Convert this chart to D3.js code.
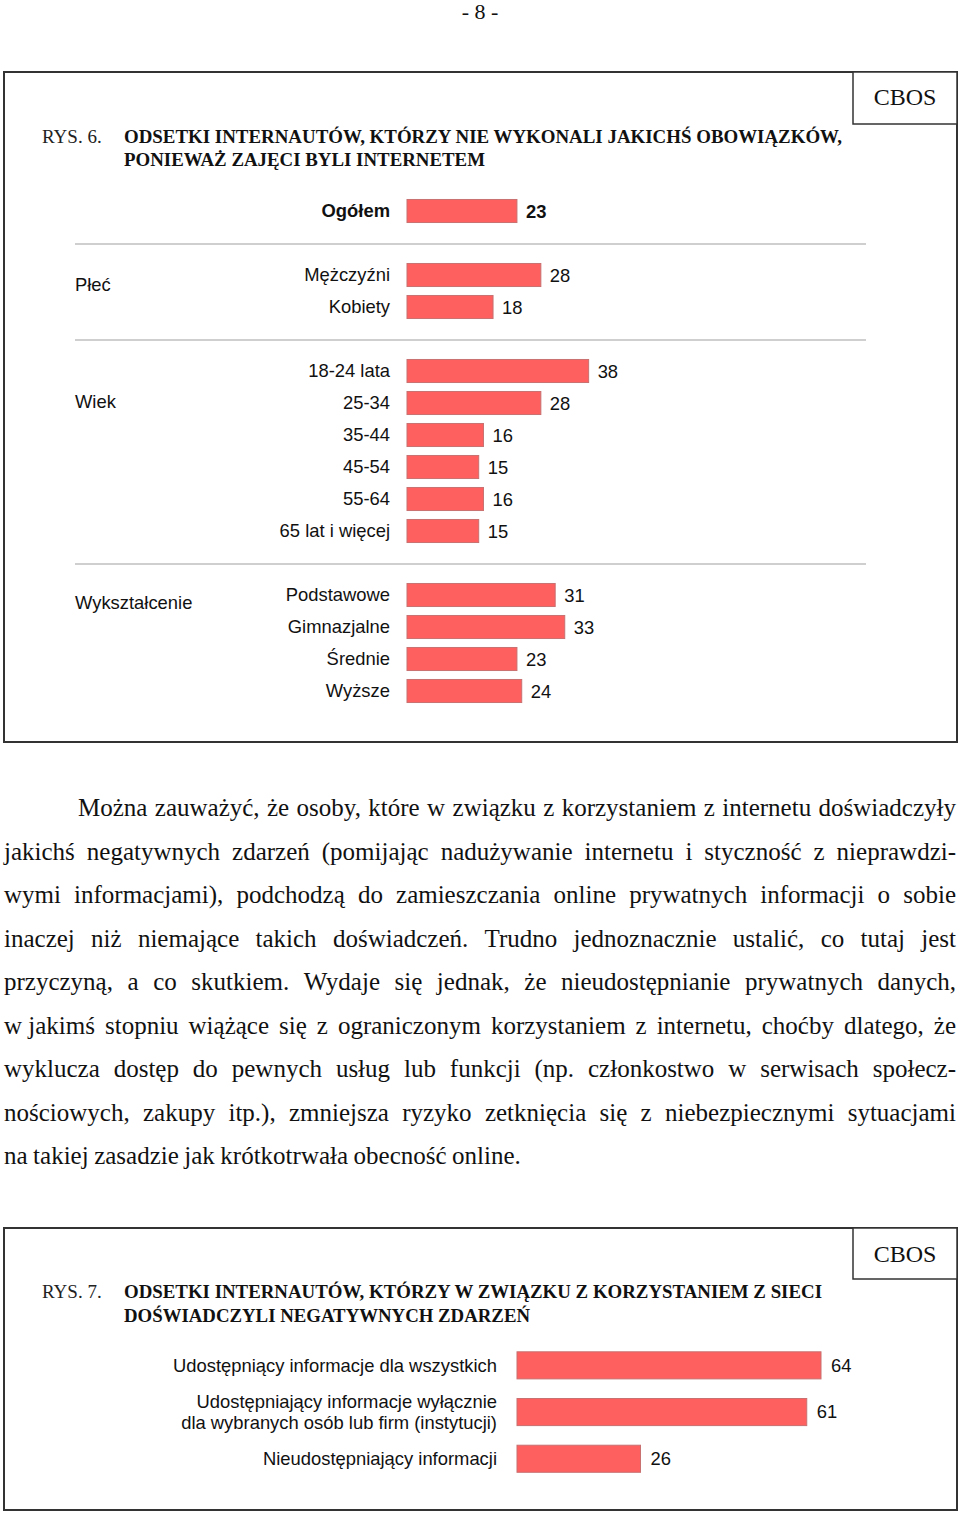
<!DOCTYPE html>
<html lang="pl">
<head>
<meta charset="utf-8">
<script src="https://cdn.jsdelivr.net/npm/d3@7"></script>
<style>
  html, body { margin: 0; padding: 0; background: #fff; }
  svg { display: block; }
  .serif { font-family: "Liberation Serif", "Times New Roman", serif; }
  .sans { font-family: "Liberation Sans", Arial, sans-serif; }
</style>
</head>
<body>
<svg id="page" width="960" height="1513"></svg>
<script>
// ---------------- DATA ----------------
const pageNumber = "- 8 -";
const brand = "CBOS";

const fig6Number = "RYS. 6.";
const fig6TitleLines = [
  "ODSETKI INTERNAUTÓW, KTÓRZY NIE WYKONALI JAKICHŚ OBOWIĄZKÓW,",
  "PONIEWAŻ ZAJĘCI BYLI INTERNETEM"
];
const fig6Groups = ["", "Płeć", "Wiek", "Wykształcenie"];
const fig6Categories = ["Ogółem", "Mężczyźni", "Kobiety", "18-24 lata", "25-34", "35-44", "45-54", "55-64", "65 lat i więcej", "Podstawowe", "Gimnazjalne", "Średnie", "Wyższe"];
const fig6CategoryGroup = [0, 1, 1, 2, 2, 2, 2, 2, 2, 3, 3, 3, 3];
const fig6Values = [23, 28, 18, 38, 28, 16, 15, 16, 15, 31, 33, 23, 24];

const paragraphLines = [
  "Można zauważyć, że osoby, które w związku z korzystaniem z internetu doświadczyły",
  "jakichś negatywnych zdarzeń (pomijając nadużywanie internetu i styczność z nieprawdzi-",
  "wymi informacjami), podchodzą do zamieszczania online prywatnych informacji o sobie",
  "inaczej niż niemające takich doświadczeń. Trudno jednoznacznie ustalić, co tutaj jest",
  "przyczyną, a co skutkiem. Wydaje się jednak, że nieudostępnianie prywatnych danych,",
  "w\u00a0jakimś stopniu wiążące się z ograniczonym korzystaniem z internetu, choćby dlatego, że",
  "wyklucza dostęp do pewnych usług lub funkcji (np. członkostwo w serwisach społecz-",
  "nościowych, zakupy itp.), zmniejsza ryzyko zetknięcia się z niebezpiecznymi sytuacjami",
  "na takiej zasadzie jak krótkotrwała obecność online."
];

const fig7Number = "RYS. 7.";
const fig7TitleLines = [
  "ODSETKI INTERNAUTÓW, KTÓRZY W ZWIĄZKU Z KORZYSTANIEM Z SIECI",
  "DOŚWIADCZYLI NEGATYWNYCH ZDARZEŃ"
];
const fig7Categories = [
  "Udostępniący informacje dla wszystkich",
  "Udostępniający informacje wyłącznie\ndla wybranych osób lub firm (instytucji)",
  "Nieudostępniający informacji"
];
const fig7Values = [64, 61, 26];

// ---------------- STYLE / LAYOUT ----------------
const BAR_FILL = "#fe5f5f";
const BAR_STROKE = "#c97070";
const BOX_STROKE = "#333";
const SANS_SIZE = 18.4;
const svg = d3.select("#page");

function frame(y0, y1, cbosBottom, cbosBaseline) {
  svg.append("rect").attr("x", 4).attr("y", y0).attr("width", 953).attr("height", y1 - y0)
    .attr("fill", "none").attr("stroke", BOX_STROKE).attr("stroke-width", 2);
  svg.append("rect").attr("x", 853).attr("y", y0).attr("width", 104).attr("height", cbosBottom - y0)
    .attr("fill", "#fff").attr("stroke", BOX_STROKE).attr("stroke-width", 1.5);
  svg.append("text").attr("class", "serif").attr("x", 905).attr("y", cbosBaseline)
    .attr("text-anchor", "middle").attr("font-size", 24).attr("fill", "#111").text(brand);
}

function title(num, lines, baselines, widths) {
  svg.append("text").attr("class", "serif").attr("x", 42).attr("y", baselines[0])
    .attr("font-size", 19).attr("fill", "#222").text(num);
  lines.forEach((t, i) => {
    svg.append("text").attr("class", "serif").attr("x", 124).attr("y", baselines[i])
      .attr("font-size", 18.5).attr("font-weight", "bold").attr("fill", "#111")
      .attr("textLength", widths[i]).attr("lengthAdjust", "spacingAndGlyphs").text(t);
  });
}

// page number
svg.append("text").attr("class", "serif").attr("x", 480).attr("y", 19)
  .attr("text-anchor", "middle").attr("font-size", 22).attr("fill", "#111").text(pageNumber);

// ---------------- FIGURE 6 ----------------
frame(72, 742, 124, 105);
title(fig6Number, fig6TitleLines, [143, 166], [718, 361]);

// slots: one per category plus a separator slot between groups
const slotOf = [];
const sepSlots = [];
let s = 0;
fig6Categories.forEach((c, i) => {
  if (i > 0 && fig6CategoryGroup[i] !== fig6CategoryGroup[i - 1]) { sepSlots.push(s); s++; }
  slotOf.push(s); s++;
});
const nSlots = s;
const y6 = d3.scaleBand().domain(d3.range(nSlots)).range([195, 195 + nSlots * 32])
  .paddingInner(0.28).paddingOuter(0.14);
const x6 = d3.scaleLinear().domain([0, 100]).range([407, 407 + 478]);
const cy6 = i => y6(slotOf[i]) + y6.bandwidth() / 2;

// separators
svg.append("g").selectAll("line").data(sepSlots).join("line")
  .attr("x1", 75).attr("x2", 866)
  .attr("y1", d => y6(d) + y6.bandwidth() / 2 + 1).attr("y2", d => y6(d) + y6.bandwidth() / 2 + 1)
  .attr("stroke", "#cfcfcf").attr("stroke-width", 2);

const g6 = svg.append("g");
g6.selectAll("rect").data(fig6Values).join("rect")
  .attr("x", x6(0)).attr("y", (d, i) => y6(slotOf[i]))
  .attr("width", d => x6(d) - x6(0)).attr("height", y6.bandwidth())
  .attr("fill", BAR_FILL).attr("stroke", BAR_STROKE).attr("stroke-width", 1);

g6.selectAll("text.cat").data(fig6Categories).join("text").attr("class", "cat sans")
  .attr("x", 390).attr("y", (d, i) => cy6(i)).attr("dy", "0.35em")
  .attr("text-anchor", "end").attr("font-size", SANS_SIZE).attr("fill", "#111")
  .attr("font-weight", (d, i) => fig6CategoryGroup[i] === 0 ? "bold" : "normal")
  .text(d => d);

g6.selectAll("text.val").data(fig6Values).join("text").attr("class", "val sans")
  .attr("x", d => x6(d) + 9).attr("y", (d, i) => cy6(i) + 1).attr("dy", "0.35em")
  .attr("font-size", SANS_SIZE).attr("fill", "#111")
  .attr("font-weight", (d, i) => fig6CategoryGroup[i] === 0 ? "bold" : "normal")
  .text(d => d);

// group labels
const groupLabelDy = { "Płeć": 10, "Wiek": 31, "Wykształcenie": 8 };
fig6Groups.forEach((gname, gi) => {
  if (!gname) return;
  const first = fig6CategoryGroup.indexOf(gi);
  svg.append("text").attr("class", "sans").attr("x", 75).attr("y", cy6(first) + groupLabelDy[gname])
    .attr("dy", "0.35em").attr("font-size", SANS_SIZE).attr("fill", "#111").text(gname);
});

// ---------------- PARAGRAPH ----------------
const pg = svg.append("g").attr("class", "serif").attr("font-size", 25).attr("fill", "#111");
const lineY = d3.scaleLinear().domain([0, 1]).range([816, 816 + 43.55]);
paragraphLines.forEach((line, li) => {
  const words = line.split(" ");
  const x0 = li === 0 ? 78 : 4;
  const x1 = 956;
  const y = lineY(li);
  const last = li === paragraphLines.length - 1;
  const nodes = words.map(w => pg.append("text").attr("y", y).text(w));
  const widths = nodes.map(n => n.node().getComputedTextLength());
  const sum = d3.sum(widths);
  let gap = last ? 25 * 0.22 : (x1 - x0 - sum) / (words.length - 1);
  let scale = 1;
  if (gap < 3) { gap = 3; scale = (x1 - x0 - 3 * (words.length - 1)) / sum; }
  let x = x0;
  nodes.forEach((n, i) => {
    n.attr("x", x);
    if (scale !== 1) n.attr("textLength", widths[i] * scale).attr("lengthAdjust", "spacingAndGlyphs");
    x += widths[i] * scale + gap;
  });
});

// ---------------- FIGURE 7 ----------------
frame(1228, 1510, 1279, 1262);
title(fig7Number, fig7TitleLines, [1298, 1322], [698, 406]);

const y7 = d3.scaleBand().domain(d3.range(fig7Categories.length)).range([1342, 1342 + 3 * 46.7])
  .paddingInner(0.42).paddingOuter(0.21);
const x7 = d3.scaleLinear().domain([0, 100]).range([517, 517 + 475]);
const cy7 = i => y7(i) + y7.bandwidth() / 2;
const g7 = svg.append("g");
g7.selectAll("rect").data(fig7Values).join("rect")
  .attr("x", x7(0)).attr("y", (d, i) => y7(i))
  .attr("width", d => x7(d) - x7(0)).attr("height", y7.bandwidth())
  .attr("fill", BAR_FILL).attr("stroke", BAR_STROKE).attr("stroke-width", 1);
g7.selectAll("text.val").data(fig7Values).join("text").attr("class", "val sans")
  .attr("x", d => x7(d) + 10).attr("y", (d, i) => cy7(i)).attr("dy", "0.35em")
  .attr("font-size", SANS_SIZE).attr("fill", "#111").text(d => d);
fig7Categories.forEach((c, i) => {
  const parts = c.split("\n");
  parts.forEach((p, pi) => {
    g7.append("text").attr("class", "sans").attr("x", 497)
      .attr("y", cy7(i) + (pi - (parts.length - 1) / 2) * 21).attr("dy", "0.35em")
      .attr("text-anchor", "end").attr("font-size", SANS_SIZE).attr("fill", "#111").text(p);
  });
});
</script>
</body>
</html>
